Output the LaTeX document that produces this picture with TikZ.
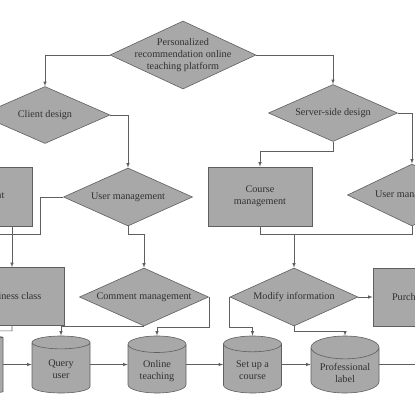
\documentclass[tikz,border=0pt]{standalone}
\usepackage{fontspec}
\setmainfont{Liberation Serif}
\usetikzlibrary{shapes,arrows}
\definecolor{boxfill}{RGB}{168,168,168}
\definecolor{edgegray}{RGB}{95,95,95}
\definecolor{txtgray}{RGB}{50,50,50}

\begin{document}
\begin{tikzpicture}[x=1pt,y=-1pt,>=latex,
    every node/.style={font=\fontsize{10.2}{12}\selectfont,text=txtgray,align=center},
    decision/.style={diamond,aspect=2.2,draw=edgegray,fill=boxfill,line width=0.6pt,inner sep=0pt,minimum width=129pt,minimum height=58pt},
    block/.style={rectangle,draw=edgegray,fill=boxfill,line width=0.6pt,minimum width=104pt,minimum height=59pt},
    store/.style={cylinder,shape border rotate=90,aspect=0.4,anchor=shape center,draw=edgegray,fill=boxfill,line width=0.6pt,minimum width=58pt,minimum height=57pt},
    link/.style={draw=edgegray,line width=0.6pt}]
          \useasboundingbox (0,0) rectangle (415,415);
          \clip (0,0) rectangle (415,415);
          % decisions
          \node[decision,minimum width=146pt,minimum height=68pt,inner xsep=-12pt,inner ysep=-6pt] (top) at (183,55) {Personalized\\recommendation online\\teaching platform};
          \node[decision,minimum width=130pt,minimum height=57pt] (client) at (45,115) {Client design};
          \node[decision,minimum height=57pt] (server) at (333,113) {Server-side design};
          \node[decision] (usermgmt) at (128,197) {User management};
          \node[decision,minimum height=62pt] (userserver) at (412,195) {User management};
          \node[decision] (comment) at (144,297) {Comment management};
          \node[decision,minimum width=128pt] (modify) at (294,297) {Modify information};
          % boxes
          \node[block] (assign) at (-20,196.5) {Assignment};
          \node[block] (course) at (260,196.5) {Course\\management};
          \node[block,minimum height=58pt] (business) at (12,296.5) {Business class};
          \node[block,minimum height=58pt] (purchase) at (425,297) {Purchase course};
          % storage
          \node[store] (prev) at (-26,364.5) {};
          \node[store] (query) at (61,364.5) {Query\\user};
          \node[store] (online) at (157,364.5) {Online\\teaching};
          \node[store] (setup) at (252.5,364.5) {Set up a\\course};
          \node[store,minimum width=68pt] (plabel) at (345,364.5) {Professional\\label};
          \coordinate (offl) at (-10,234);
          \coordinate (offb) at (-10,331);
          \coordinate (offr) at (425,364.5);
          % connectors
          \draw[link,->] (top.west) -| (client.north);
          \draw[link,->] (top.east) -| (server.north);
          \draw[link,->] (client.east) -| (usermgmt.north);
          \draw[link,->] (server.east) -| (userserver.north);
          \draw[link,->] (server.south) -- ++(0,9) -| (course.north);
          \draw[link,->] (assign.south -| business.north) -- (business.north);
          \draw[link] (usermgmt.west) -- ++(-23,0) |- (offl);
          \draw[link,->] (usermgmt.south) -- ++(0,8) -| (comment.north);
          \draw[link] (userserver.south) -- ++(0,8) -| (course.south);
          \draw[link,->] ([yshift=-8pt]modify.north |- userserver.south) -- (modify.north);
          \draw[link] (business.south) -- ++(0,5) -- (offb);
          \draw[link,->] (comment.south) -| (query.north);
          \draw[link,->] (comment.east) -- ++(0,30) -| (online.north);
          \draw[link,->] (modify.west) -- ++(0,30) -| (setup.north);
          \draw[link,->] (modify.south) -- ++(0,5) -| (plabel.north);
          \draw[link,->] (modify.east) -- (purchase.west);
          \foreach \a/\b in {prev/query,query/online,online/setup,setup/plabel}
            \draw[link,->] (\a.east |- \a.shape center) -- (\b.west |- \a.shape center);
          \draw[link] (plabel.east |- plabel.shape center) -- (offr);
        \end{tikzpicture}
\end{document}
